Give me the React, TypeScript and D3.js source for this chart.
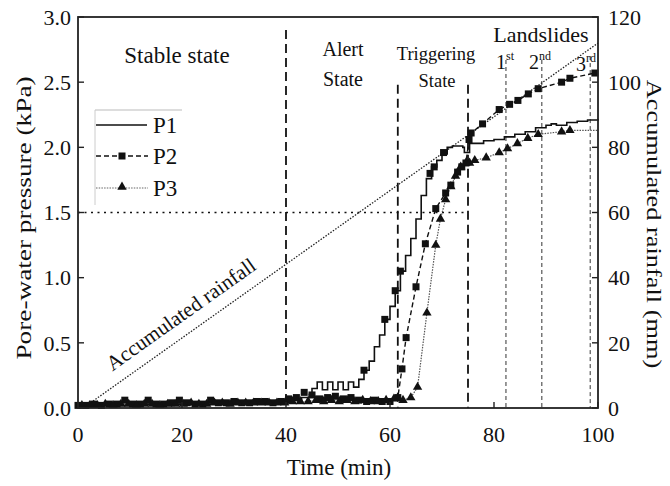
import React from "react";
import * as d3 from "d3";

// ---------- data ----------
const xTicks = [0, 20, 40, 60, 80, 100];
const yLeftTicks = [0, 0.5, 1.0, 1.5, 2.0, 2.5, 3.0];
const yRightTicks = [0, 20, 40, 60, 80, 100, 120];

const rainT = [1, 100];
const rainV = [0, 112];

const p1T = [0, 5, 10, 15, 20, 25, 30, 35, 39, 41, 43, 44.5, 45, 46, 47, 48, 49, 50, 51, 52, 53, 54, 55, 56, 57, 58, 59, 60, 61, 62, 63, 64, 65, 66, 67, 68, 69, 70, 71, 72, 73, 74, 74.3, 74.8, 75.3, 76, 78, 80, 82, 84, 86, 88, 90, 91, 92, 94, 96, 98, 100];
const p1V = [0.02, 0.02, 0.03, 0.03, 0.03, 0.03, 0.03, 0.04, 0.04, 0.06, 0.08, 0.1, 0.15, 0.2, 0.14, 0.2, 0.14, 0.2, 0.14, 0.2, 0.16, 0.22, 0.29, 0.36, 0.47, 0.56, 0.68, 0.78, 0.9, 1.05, 1.17, 1.3, 1.45, 1.63, 1.76, 1.85, 1.9, 1.95, 2.0, 2.01, 2.01, 2.0, 1.96, 1.96, 2.03, 2.03, 2.05, 2.06, 2.08, 2.1, 2.12, 2.15, 2.17, 2.18, 2.17, 2.19, 2.2, 2.21, 2.22];
const p1SqT = [55, 59, 61, 62, 67.7, 68.5, 70.3];
const p1SqV = [0.29, 0.68, 0.9, 1.05, 1.8, 1.85, 1.96];

const p2T = [0, 1.5, 3, 4.5, 6, 7.5, 9, 10.5, 12, 13.5, 15, 16.5, 18, 19.5, 21, 22.5, 24, 25.5, 27, 28.5, 30, 31.5, 33, 34.5, 36, 37.5, 39, 40.5, 42, 43.5, 45, 46.5, 48, 49.5, 51, 52.5, 54, 55.5, 57, 58.5, 60, 61.5, 62.3, 63.1, 65, 66.8, 68.8, 70.7, 71.7, 73, 73.8, 74.6, 75.2, 75.6, 77.8, 81, 83, 84.6, 86.6, 88.5, 93, 94.6, 99.4, 100];
const p2V = [0.02, 0.02, 0.03, 0.02, 0.03, 0.03, 0.06, 0.03, 0.03, 0.06, 0.03, 0.03, 0.04, 0.06, 0.04, 0.03, 0.03, 0.06, 0.04, 0.04, 0.05, 0.04, 0.04, 0.05, 0.05, 0.04, 0.05, 0.07, 0.08, 0.12, 0.1, 0.07, 0.08, 0.09, 0.07, 0.08, 0.06, 0.05, 0.06, 0.05, 0.05, 0.08, 0.3, 0.54, 0.93, 1.26, 1.53, 1.65, 1.71, 1.81, 1.85, 1.88, 2.06, 2.11, 2.18, 2.29, 2.33, 2.36, 2.41, 2.45, 2.5, 2.53, 2.57, 2.57];

const p3T = [0.75, 2.25, 3.75, 5.25, 6.75, 8.25, 9.75, 11.25, 12.75, 14.25, 15.75, 17.25, 18.75, 20.25, 21.75, 23.25, 24.75, 26.25, 27.75, 29.25, 30.75, 32.25, 33.75, 35.25, 36.75, 38.25, 39.75, 41.25, 42.75, 44.25, 45.75, 47.25, 48.75, 50.25, 51.75, 53.25, 54.75, 56.25, 57.75, 59.25, 60.75, 62.5, 64, 65.3, 67.1, 68.8, 69.7, 70.7, 71.7, 72.6, 73.6, 74.6, 75.3, 76.3, 78.5, 81, 82.6, 84.5, 86.5, 88.5, 93, 94.6, 100];
const p3V = [0.02, 0.02, 0.02, 0.03, 0.02, 0.03, 0.03, 0.02, 0.03, 0.03, 0.02, 0.03, 0.03, 0.03, 0.04, 0.03, 0.03, 0.04, 0.04, 0.03, 0.04, 0.04, 0.04, 0.04, 0.04, 0.04, 0.04, 0.05, 0.05, 0.05, 0.06, 0.05, 0.06, 0.05, 0.06, 0.05, 0.06, 0.05, 0.05, 0.06, 0.07, 0.06, 0.08, 0.16, 0.73, 1.25, 1.45, 1.6, 1.7, 1.78, 1.85, 1.88, 1.88, 1.9, 1.92, 1.96, 1.99, 2.03, 2.07, 2.1, 2.12, 2.13, 2.13];

const stageLines = [40, 61.5, 75];
const stageTops = [2.9, 2.48, 2.48];
const slideLines = [82.3, 89.2, 98.5];
const slideTops = [2.67, 2.67, 2.7];

// ---------- component ----------
const FONT = "Liberation Serif, Times New Roman, serif";

export default function App() {
  const x = d3.scaleLinear().domain([0, 100]).range([78, 598]);
  const y = d3.scaleLinear().domain([0, 3]).range([408, 17]);
  const yr = d3.scaleLinear().domain([0, 120]).range([408, 17]);

  const pts = (t: number[], v: number[]) => t.map((tt, i) => [tt, v[i]] as [number, number]);
  const line = d3.line<[number, number]>().x((d) => x(d[0])).y((d) => y(d[1]));
  const stepLine = d3.line<[number, number]>().x((d) => x(d[0])).y((d) => y(d[1])).curve(d3.curveStepAfter);
  const rainLine = d3.line<[number, number]>().x((d) => x(d[0])).y((d) => yr(d[1]));

  const p1 = pts(p1T, p1V);
  const p2 = pts(p2T, p2V);
  const p3 = pts(p3T, p3V);
  const p1Sq = pts(p1SqT, p1SqV);

  const tri = d3.symbol().type(d3.symbolTriangle).size(38)()!;
  const sq = 7;

  const rainAngle = (Math.atan2(yr(rainV[0]) - yr(rainV[1]), x(rainT[1]) - x(rainT[0])) * 180) / Math.PI;
  const txt = { fontFamily: FONT, fill: "#111" } as const;

  return (
    <svg width={670} height={486} style={{ position: "absolute", left: 0, top: 0, background: "#fff", fontFamily: FONT }}>
      <rect width={670} height={486} fill="#fff" />
      {/* reference lines */}
      <line x1={x(0)} x2={x(75)} y1={y(1.5)} y2={y(1.5)} stroke="#111" strokeWidth={1.6} strokeDasharray="2,4.5" />
      {stageLines.map((t, i) => (
        <line key={"s" + i} x1={x(t)} x2={x(t)} y1={y(stageTops[i])} y2={y(0)} stroke="#111" strokeWidth={1.8} strokeDasharray="9,5" />
      ))}
      {slideLines.map((t, i) => (
        <line key={"l" + i} x1={x(t)} x2={x(t)} y1={y(slideTops[i])} y2={y(0)} stroke="#333" strokeWidth={1} strokeDasharray="4,3" />
      ))}
      {/* rainfall */}
      <path d={rainLine(pts(rainT, rainV))!} fill="none" stroke="#222" strokeWidth={1.3} strokeDasharray="1.5,1.5" />

      {/* series */}
      <path d={line(p3)!} fill="none" stroke="#555" strokeWidth={1.2} strokeDasharray="1.5,1.2" />
      <path d={line(p2)!} fill="none" stroke="#111" strokeWidth={1.4} strokeDasharray="5,3" />
      <path d={stepLine(p1)!} fill="none" stroke="#111" strokeWidth={1.6} />
      {p2.filter((d) => d[0] < 100).map((d, i) => (
        <rect key={"q" + i} x={x(d[0]) - sq / 2} y={y(d[1]) - sq / 2} width={sq} height={sq} fill="#111" />
      ))}
      {p1Sq.map((d, i) => (
        <rect key={"r" + i} x={x(d[0]) - sq / 2} y={y(d[1]) - sq / 2} width={sq} height={sq} fill="#111" />
      ))}
      {p3.filter((d) => d[0] < 100).map((d, i) => (
        <path key={"t" + i} d={tri} transform={`translate(${x(d[0])},${y(d[1])})`} fill="#111" />
      ))}

      {/* frame */}
      <rect x={x(0)} y={y(3)} width={x(100) - x(0)} height={y(0) - y(3)} fill="none" stroke="#222" strokeWidth={1.8} />
      {xTicks.map((t) => (
        <g key={"xt" + t}>
          <line x1={x(t)} x2={x(t)} y1={y(0)} y2={y(0) - 6} stroke="#222" strokeWidth={1.4} />
          <text {...txt} x={x(t)} y={442} textAnchor="middle" fontSize={22}>{t}</text>
        </g>
      ))}
      {yLeftTicks.map((t) => (
        <g key={"yl" + t}>
          <line x1={x(0)} x2={x(0) + 6} y1={y(t)} y2={y(t)} stroke="#222" strokeWidth={1.4} />
          <text {...txt} x={71} y={y(t)} dy="0.35em" textAnchor="end" fontSize={22}>{t.toFixed(1)}</text>
        </g>
      ))}
      {yRightTicks.map((t) => (
        <g key={"yr" + t}>
          <line x1={x(100)} x2={x(100) - 6} y1={yr(t)} y2={yr(t)} stroke="#222" strokeWidth={1.4} />
          <text {...txt} x={608} y={yr(t)} dy="0.35em" textAnchor="start" fontSize={22}>{t}</text>
        </g>
      ))}

      {/* axis titles */}
      <text {...txt} x={339} y={475} textAnchor="middle" fontSize={23}>Time (min)</text>
      <text {...txt} transform={`translate(31,218) rotate(-90) scale(1.24,1)`} textAnchor="middle" fontSize={22}>Pore-water pressure (kPa)</text>
      <text {...txt} transform={`translate(647,224) rotate(90) scale(1.2,1)`} textAnchor="middle" fontSize={22}>Accumulated rainfall (mm)</text>

      {/* annotations */}
      <text {...txt} x={177} y={63} textAnchor="middle" fontSize={23}>Stable state</text>
      <text {...txt} x={343} y={56} textAnchor="middle" fontSize={20}>Alert</text>
      <text {...txt} x={343} y={86} textAnchor="middle" fontSize={20}>State</text>
      <text {...txt} x={436} y={60} textAnchor="middle" fontSize={18.5}>Triggering</text>
      <text {...txt} x={437} y={87} textAnchor="middle" fontSize={18.5}>State</text>
      <text {...txt} x={541} y={42} textAnchor="middle" fontSize={22}>Landslides</text>
      <text {...txt} x={496} y={69} fontSize={20}>1<tspan fontSize={12} dy={-9}>st</tspan></text>
      <text {...txt} x={529} y={69} fontSize={20}>2<tspan fontSize={12} dy={-9}>nd</tspan></text>
      <text {...txt} x={576} y={71} fontSize={20}>3<tspan fontSize={12} dy={-9}>rd</tspan></text>
      <text {...txt} transform={`translate(185,${320}) rotate(${-rainAngle})`} textAnchor="middle" fontSize={21}>Accumulated rainfall</text>

      {/* legend */}
      <line x1={95} x2={182} y1={110} y2={110} stroke="#bbb" strokeWidth={1.2} />
      <line x1={95} x2={95} y1={110} y2={205} stroke="#ccc" strokeWidth={1} />
      <line x1={96} x2={147} y1={125} y2={125} stroke="#111" strokeWidth={1.6} />
      <text {...txt} x={153} y={125} dy="0.35em" fontSize={23}>P1</text>
      <line x1={96} x2={148} y1={156} y2={156} stroke="#111" strokeWidth={1.3} strokeDasharray="5,3" />
      <rect x={122 - sq / 2} y={156 - sq / 2} width={sq} height={sq} fill="#111" />
      <text {...txt} x={153} y={156} dy="0.35em" fontSize={23}>P2</text>
      <line x1={96} x2={148} y1={188} y2={188} stroke="#666" strokeWidth={1.2} strokeDasharray="1.5,1.2" />
      <path d={tri} transform="translate(122,187)" fill="#111" />
      <text {...txt} x={153} y={188} dy="0.35em" fontSize={23}>P3</text>
    </svg>
  );
}
